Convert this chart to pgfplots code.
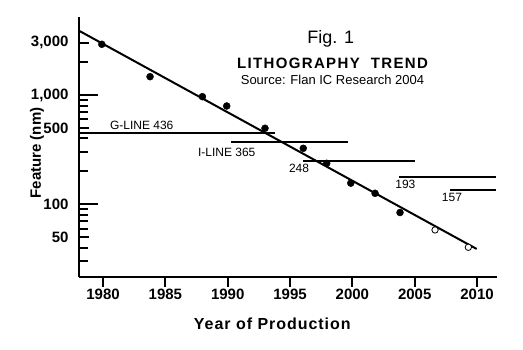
\documentclass[border=0pt]{standalone}
\usepackage{pgfplots}
\pgfplotsset{compat=1.18}
\usepackage{fontspec}
\setmainfont{Liberation Sans}
\begin{document}
\begin{tikzpicture}
\useasboundingbox (-79pt,-73pt) rectangle (444pt,277pt);
\begin{axis}[
  at={(0pt,0pt)}, anchor=south west,
  scale only axis, width=418pt, height=260pt,
  ymode=log,
  xmin=1978.07, xmax=2011.6, ymin=21.6, ymax=5171,
  axis x line*=bottom, axis y line*=left,
  axis line style={line width=2pt, black},
  tick style={line width=2pt, black},
  xtick align=outside, ytick align=inside,
  major tick length=10pt, minor tick length=9pt,
  /pgf/number format/assume math mode=true,
  xtick={1980,1985,1990,1995,2000,2005,2010},
  xticklabels={1980,1985,1990,1995,2000,2005,2010},
  xticklabel style={font=\bfseries\fontsize{15}{15}\selectfont, yshift=1pt},
  ytick={50,500,3000},
  yticklabels={50,500,{3,000}},
  yticklabel style={font=\bfseries\fontsize{15}{15}\selectfont, xshift=-7pt},
  extra y ticks={100,1000},
  extra y tick labels={100,{1,000}},
  extra y tick style={major tick length=19pt},
  minor ytick={30,40,60,70,80,90,200,300,400,600,700,800,900,2000},
  clip=false,
]
% trend line
\addplot[black, line width=2pt] coordinates {(1978.07,3873) (2009.97,39)};
% lithography wavelength lines
\addplot[black, line width=2pt] coordinates {(1978.07,452) (1993.80,452)};
\addplot[black, line width=2pt] coordinates {(1990.27,374) (1999.63,374)};
\addplot[black, line width=2pt] coordinates {(1996.07,249) (2005.03,249)};
\addplot[black, line width=2pt] coordinates {(2003.74,179) (2011.52,179)};
\addplot[black, line width=2pt] coordinates {(2007.83,135) (2011.52,135)};
% measured points
\addplot[only marks, mark=*, mark size=3.5pt, black] coordinates {
  (1979.9,2910) (1983.77,1470) (1987.97,965) (1989.92,793) (1992.99,496)
  (1996.06,325) (1997.94,237) (1999.87,156) (2001.82,126) (2003.82,84)};
% projected points
\addplot[only marks, mark=*, mark size=3.2pt, mark options={fill=white, draw=black, line width=0.8pt}] coordinates {
  (2006.63,58.2) (2009.3,40.4)};
% line labels
\node[anchor=base, inner sep=0pt, font=\fontsize{12}{12}\selectfont] at (axis cs:1983.10,483.5) {G-LINE 436};
\node[anchor=base, inner sep=0pt, font=\fontsize{12}{12}\selectfont] at (axis cs:1989.92,272.7) {I-LINE 365};
\node[anchor=base, inner sep=0pt, font=\fontsize{12}{12}\selectfont] at (axis cs:1995.72,196.2) {248};
\node[anchor=base, inner sep=0pt, font=\fontsize{12}{12}\selectfont] at (axis cs:2004.25,140.1) {193};
\node[anchor=base, inner sep=0pt, font=\fontsize{12}{12}\selectfont] at (axis cs:2007.99,105.6) {157};
\end{axis}
% titles
\node[anchor=base, inner sep=0pt, font=\fontsize{18}{18}\selectfont] at (251.8pt,233pt) {Fig. 1};
\node[anchor=base, inner sep=0pt, font=\bfseries\fontsize{15}{15}\selectfont\addfontfeatures{LetterSpace=9}] at (253.5pt,208.7pt) {LITHOGRAPHY\ \ TREND};
\node[anchor=base, inner sep=0pt, font=\fontsize{13}{13}\selectfont] at (253.5pt,192pt) {Source: Flan IC Research 2004};
% axis labels
\node[anchor=base, inner sep=0pt, font=\bfseries\fontsize{16}{16}\selectfont\addfontfeatures{LetterSpace=6}] at (193.3pt,-53pt) {Year of Production};
\node[anchor=base, rotate=90, inner sep=0pt, font=\bfseries\fontsize{15}{15}\selectfont] at (-38pt,124pt) {Feature (nm)};
\end{tikzpicture}
\end{document}
